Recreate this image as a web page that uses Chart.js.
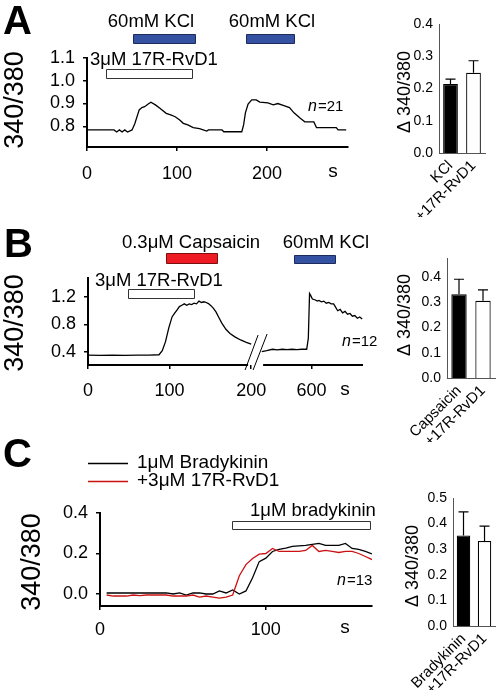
<!DOCTYPE html>
<html>
<head>
<meta charset="utf-8">
<script src="https://cdn.jsdelivr.net/npm/chart.js@4"></script>
<style>
html, body { margin: 0; padding: 0; background: #fff; }
#wrap { position: relative; width: 502px; height: 692px; overflow: hidden; background: #fff; }
#wrap canvas { position: absolute; left: 0; top: 0; }
</style>
</head>
<body>
<div id="wrap">
  <canvas id="lineA" width="502" height="692"></canvas>
  <canvas id="barA" width="502" height="692"></canvas>
  <canvas id="lineB" width="502" height="692"></canvas>
  <canvas id="barB" width="502" height="692"></canvas>
  <canvas id="lineC" width="502" height="692"></canvas>
  <canvas id="barC" width="502" height="692"></canvas>
</div>
<script>
// ---- panel A trace (s, 340/380)
const aTimes = [0,30,33,36,39,42,45,50,53,58,61,64,68,71,76,81,88,93,98,103,107,112,118,125,133,135,150,152,172,174,176,179,183,188,192,201,207,212,218,225,230,237,242,252,255,265,277,279,288];
const aVals = [0.784,0.784,0.775,0.784,0.775,0.784,0.775,0.784,0.810,0.872,0.882,0.886,0.898,0.906,0.894,0.879,0.857,0.850,0.842,0.828,0.813,0.806,0.794,0.790,0.779,0.784,0.784,0.776,0.776,0.806,0.859,0.898,0.916,0.916,0.906,0.903,0.894,0.900,0.892,0.882,0.859,0.835,0.820,0.819,0.794,0.794,0.794,0.784,0.784];
const aKclRanges = [[51, 120], [177, 230]];
const aRvdRange = [21, 117];

// ---- panel B trace, split by the axis break
const bTimes1 = [0,15,30,45,60,75,87,91,95,99,103,106,109,112,115,118,121,124,127,130,133,136,139,142,145,148,151,154,157,160,164,169,174,180,187,194,200];
const bVals1 = [0.356,0.352,0.356,0.352,0.356,0.354,0.36,0.42,0.55,0.75,0.91,0.96,1.01,1.06,1.08,1.10,1.08,1.10,1.09,1.11,1.10,1.14,1.12,1.13,1.12,1.10,1.07,1.03,0.98,0.91,0.82,0.73,0.67,0.62,0.575,0.54,0.516];
const bTimes2 = [539,545,552,558,564,570,576,582,588,594,596,597.5,599,601,604,607,609,612,615,618,621,624,627,629,632,635,638,641,644,647,650,653,656,659,662];
const bVals2 = [0.405,0.42,0.44,0.43,0.44,0.435,0.44,0.435,0.44,0.44,0.60,1.25,1.22,1.17,1.16,1.14,1.15,1.13,1.14,1.11,1.12,1.10,1.10,1.06,1.00,1.02,0.97,0.99,0.95,0.96,0.92,0.93,0.89,0.91,0.88];
const bTickTimes = [0, 100, 200, 600];
const bBreak = [200, 539];
const bCapRange = [96, 158];
const bKclRange = [578, 628];
const bRvdRange = [49, 130];

// ---- panel C traces
const cTimes = [4,8,12,16,20,24,28,32,36,40,44,48,52,56,60,64,68,72,76,80,84,88,92,96,100,104,108,112,116,120,124,128,132,136,140,144,148,152,156,160,164];
const cBradykinin = [0.005,0.005,0.005,0.005,0.005,0.005,0.005,0.005,0.005,0.005,0.0,0.005,-0.005,0.005,0.005,0.0,0.0,0.015,0.005,0.02,0.0,0.015,0.08,0.16,0.177,0.21,0.22,0.226,0.235,0.238,0.24,0.245,0.25,0.24,0.24,0.24,0.25,0.225,0.22,0.21,0.198];
const cWithRvd = [-0.005,-0.01,-0.01,-0.01,-0.005,-0.008,-0.005,-0.005,-0.005,-0.005,-0.01,-0.01,-0.01,-0.005,-0.015,-0.01,-0.015,-0.02,-0.015,-0.005,0.09,0.145,0.175,0.197,0.2,0.225,0.21,0.21,0.21,0.21,0.215,0.24,0.21,0.215,0.21,0.205,0.21,0.21,0.2,0.185,0.17];
const cBkRange = [79.5, 163];

// ---- bar summaries (mean, +SEM)
const barLabelsA = ['KCl', '+17R-RvD1'];
const barMeansA = [0.214, 0.249];
const barErrA = [0.015, 0.037];
const barLabelsB = ['Capsaicin', '+17R-RvD1'];
const barMeansB = [0.331, 0.305];
const barErrB = [0.059, 0.043];
const barLabelsC = ['Bradykinin', '+17R-RvD1'];
const barMeansC = [0.354, 0.332];
const barErrC = [0.092, 0.058];

const FONT = "'Liberation Sans', Arial, Helvetica, sans-serif";
Chart.defaults.font.family = FONT;
Chart.defaults.color = '#000';

const W = 502, H = 692, YW = 60;

function bMap(t) {
  return t <= bBreak[0] ? t : t - bBreak[1] + 213;
}

function padFor(area, xh) {
  return { left: area.l - YW, top: area.t, right: W - area.r, bottom: H - area.b - xh };
}

function fixedTicks(vals) {
  return scale => { scale.ticks = vals.map(v => ({ value: v })); };
}

function label(ctx, s, x, y, size, opt) {
  opt = opt || {};
  ctx.save();
  ctx.font = (opt.style || '') + ' ' + size + 'px ' + FONT;
  ctx.fillStyle = opt.color || '#000';
  ctx.textAlign = opt.align || 'left';
  ctx.textBaseline = opt.base || 'middle';
  ctx.translate(x, y);
  if (opt.rot) ctx.rotate(opt.rot);
  ctx.fillText(s, 0, 0);
  ctx.restore();
}

function nLabel(ctx, num, x, y) {
  ctx.save();
  ctx.font = 'italic 16px ' + FONT;
  const w = ctx.measureText('n').width;
  ctx.restore();
  label(ctx, 'n', x, y, 16, { style: 'italic' });
  label(ctx, '=' + num, x + w + 1, y, 15);
}

function box(chart, t0, t1, y0, y1, fill, stroke, map) {
  const xs = chart.scales.x, ctx = chart.ctx;
  map = map || (t => t);
  const a = xs.getPixelForValue(map(t0)), b = xs.getPixelForValue(map(t1));
  ctx.save();
  ctx.fillStyle = fill;
  ctx.strokeStyle = stroke;
  ctx.lineWidth = 1;
  ctx.beginPath();
  ctx.rect(Math.round(a) + 0.5, y0 + 0.5, Math.round(b - a), y1 - y0);
  ctx.fill();
  ctx.stroke();
  ctx.restore();
}

function makeLine(id, cfg) {
  const XH = 40;
  return new Chart(document.getElementById(id), {
    type: 'line',
    data: {
      datasets: cfg.datasets.map(d => ({
        data: d.t.map((t, i) => ({ x: cfg.map ? cfg.map(t) : t, y: d.v[i] })),
        borderColor: d.color,
        borderWidth: 1.3,
        pointRadius: 0,
        tension: 0,
        fill: false
      }))
    },
    options: {
      responsive: false,
      animation: false,
      events: [],
      layout: { padding: padFor(cfg.area, XH) },
      plugins: { legend: { display: false }, tooltip: { enabled: false } },
      scales: {
        x: {
          type: 'linear', min: cfg.xMin, max: cfg.xMax,
          afterBuildTicks: fixedTicks(cfg.xTicks),
          afterFit: s => { s.height = XH; },
          grid: { drawOnChartArea: false, tickLength: 4, color: '#000', lineWidth: 1.5 },
          border: { display: cfg.xBorder !== false, color: '#000', width: 2 },
          ticks: { font: { size: 18 }, padding: cfg.xPad, maxRotation: 0, autoSkip: false, callback: cfg.xLabel || (v => String(v)) }
        },
        y: {
          min: cfg.yMin, max: cfg.yMax,
          afterBuildTicks: fixedTicks(cfg.yTicks),
          afterFit: s => { s.width = YW; },
          grid: { drawOnChartArea: false, tickLength: 4, color: '#000', lineWidth: 1.5 },
          border: { color: '#000', width: 2 },
          ticks: { font: { size: 18 }, padding: 8, callback: v => v.toFixed(1) }
        }
      }
    },
    plugins: [{ id: 'deco', afterDraw: chart => cfg.draw(chart, chart.ctx) }]
  });
}

function makeBar(id, cfg) {
  const XH = 64;
  return new Chart(document.getElementById(id), {
    type: 'bar',
    data: {
      labels: cfg.labels,
      datasets: [{
        data: cfg.means,
        backgroundColor: ['#000', '#fff'],
        borderColor: '#000',
        borderWidth: 1.2,
        barPercentage: 0.64,
        categoryPercentage: 1
      }]
    },
    options: {
      responsive: false,
      animation: false,
      events: [],
      layout: { padding: padFor(cfg.area, XH) },
      plugins: { legend: { display: false }, tooltip: { enabled: false } },
      scales: {
        x: {
          afterFit: s => { s.height = XH; },
          grid: { display: false, drawTicks: false },
          border: { color: '#555', width: 1 },
          ticks: { font: { size: 15 }, minRotation: 45, maxRotation: 45, autoSkip: false, padding: 4 }
        },
        y: {
          min: 0, max: cfg.yMax,
          afterBuildTicks: fixedTicks(cfg.yTicks),
          afterFit: s => { s.width = YW; },
          grid: { display: false, drawTicks: false },
          border: { color: '#555', width: 1 },
          ticks: { font: { size: 14 }, padding: 6, callback: v => v.toFixed(1) }
        }
      }
    },
    plugins: [{
      id: 'errbars',
      afterDatasetsDraw(chart) {
        const ctx = chart.ctx, ys = chart.scales.y;
        const meta = chart.getDatasetMeta(0);
        ctx.save();
        ctx.strokeStyle = '#000';
        ctx.lineWidth = 1.2;
        meta.data.forEach((bar, i) => {
          const top = ys.getPixelForValue(cfg.means[i] + cfg.errs[i]);
          ctx.beginPath();
          ctx.moveTo(bar.x, bar.y);
          ctx.lineTo(bar.x, top);
          ctx.moveTo(bar.x - 5, top);
          ctx.lineTo(bar.x + 5, top);
          ctx.stroke();
        });
        ctx.restore();
      },
      afterDraw(chart) {
        label(chart.ctx, '\u0394 340/380', cfg.title[0], cfg.title[1], 18, { align: 'center', rot: -Math.PI / 2 });
      }
    }]
  });
}

// ---- A
makeLine('lineA', {
  area: { l: 87, t: 58, r: 348, b: 147 },
  xMin: 0, xMax: 290, xTicks: [0, 100, 200], xPad: 12,
  yMin: 0.709, yMax: 1.1, yTicks: [0.8, 0.9, 1.0, 1.1],
  datasets: [{ t: aTimes, v: aVals, color: '#000' }],
  draw(chart, ctx) {
    label(ctx, 'A', 3, 34, 40, { style: 'bold', base: 'alphabetic' });
    label(ctx, '340/380', 16, 100, 27, { align: 'center', rot: -Math.PI / 2 });
    label(ctx, '60mM KCl', 151, 22, 18.5, { align: 'center' });
    label(ctx, '60mM KCl', 272, 22, 18.5, { align: 'center' });
    aKclRanges.forEach(r => box(chart, r[0], r[1], 34, 43, '#3451a2', '#1d2b5c'));
    label(ctx, '3\u03bcM 17R-RvD1', 90, 60, 18.5);
    box(chart, aRvdRange[0], aRvdRange[1], 69, 78, '#fff', '#333');
    nLabel(ctx, '21', 308, 107);
    label(ctx, 's', 333, 172, 19, { align: 'center' });
  }
});

makeBar('barA', {
  area: { l: 439, t: 24, r: 485, b: 153 },
  labels: barLabelsA, means: barMeansA, errs: barErrA,
  yMax: 0.4, yTicks: [0, 0.1, 0.2, 0.3, 0.4],
  title: [405, 92]
});

// ---- B
makeLine('lineB', {
  area: { l: 88, t: 278, r: 363, b: 365 },
  map: bMap,
  xMin: 0, xMax: bMap(663), xTicks: bTickTimes.map(bMap), xPad: 11,
  xLabel: v => { const i = bTickTimes.findIndex(t => bMap(t) === v); return i >= 0 ? String(bTickTimes[i]) : ''; },
  xBorder: false,
  yMin: 0.211, yMax: 1.476, yTicks: [0.4, 0.8, 1.2],
  datasets: [
    { t: bTimes1, v: bVals1, color: '#000' },
    { t: bTimes2, v: bVals2, color: '#000' }
  ],
  draw(chart, ctx) {
    const xs = chart.scales.x, a = chart.chartArea;
    // broken x axis
    const xb = xs.getPixelForValue(206);
    ctx.save();
    ctx.strokeStyle = '#000';
    ctx.lineWidth = 2;
    ctx.beginPath();
    ctx.moveTo(a.left - 1, a.bottom);
    ctx.lineTo(xb - 8, a.bottom);
    ctx.moveTo(xb + 7, a.bottom);
    ctx.lineTo(a.right, a.bottom);
    ctx.stroke();
    ctx.lineWidth = 1;
    ctx.beginPath();
    ctx.moveTo(xb - 11, a.bottom + 5);
    ctx.lineTo(xb + 2, a.bottom - 30);
    ctx.moveTo(xb - 3, a.bottom + 5);
    ctx.lineTo(xb + 11, a.bottom - 31);
    ctx.stroke();
    ctx.restore();

    label(ctx, '340/380', 16, 323, 27, { align: 'center', rot: -Math.PI / 2 });
    label(ctx, 'B', 4, 257, 40, { style: 'bold', base: 'alphabetic' });
    label(ctx, '0.3\u03bcM Capsaicin', 191, 243, 18.5, { align: 'center' });
    box(chart, bCapRange[0], bCapRange[1], 253, 263, '#ee1b24', '#7a1010', bMap);
    label(ctx, '60mM KCl', 326, 243, 18.5, { align: 'center' });
    box(chart, bKclRange[0], bKclRange[1], 255, 263, '#3451a2', '#1d2b5c', bMap);
    label(ctx, '3\u03bcM 17R-RvD1', 95, 281, 18.5);
    box(chart, bRvdRange[0], bRvdRange[1], 289, 298, '#fff', '#333', bMap);
    nLabel(ctx, '12', 342, 342);
    label(ctx, 's', 345, 390, 19, { align: 'center' });
  }
});

makeBar('barB', {
  area: { l: 447, t: 258, r: 495, b: 378 },
  labels: barLabelsB, means: barMeansB, errs: barErrB,
  yMax: 0.474, yTicks: [0, 0.1, 0.2, 0.3, 0.4],
  title: [405, 315]
});

// ---- C
makeLine('lineC', {
  area: { l: 100, t: 513, r: 372, b: 606 },
  xMin: 0, xMax: 164, xTicks: [0, 100], xPad: 9,
  yMin: -0.0593, yMax: 0.4, yTicks: [0, 0.2, 0.4],
  datasets: [
    { t: cTimes, v: cWithRvd, color: '#cc1111' },
    { t: cTimes, v: cBradykinin, color: '#000' }
  ],
  draw(chart, ctx) {
    label(ctx, 'C', 3, 467, 40, { style: 'bold', base: 'alphabetic' });
    ctx.save();
    ctx.lineWidth = 1.3;
    ctx.strokeStyle = '#000';
    ctx.beginPath(); ctx.moveTo(88, 463.5); ctx.lineTo(128, 463.5); ctx.stroke();
    ctx.strokeStyle = '#cc1111';
    ctx.beginPath(); ctx.moveTo(88, 481.5); ctx.lineTo(128, 481.5); ctx.stroke();
    ctx.restore();
    label(ctx, '1\u03bcM Bradykinin', 137, 463, 19);
    label(ctx, '+3\u03bcM 17R-RvD1', 137, 481, 19);
    label(ctx, '340/380', 33, 562, 27, { align: 'center', rot: -Math.PI / 2 });
    label(ctx, '1\u03bcM bradykinin', 250, 511, 18.5);
    box(chart, cBkRange[0], cBkRange[1], 521, 529, '#fff', '#333');
    nLabel(ctx, '13', 337, 581);
    label(ctx, 's', 345, 628, 19, { align: 'center' });
  }
});

makeBar('barC', {
  area: { l: 453, t: 498, r: 499, b: 626 },
  labels: barLabelsC, means: barMeansC, errs: barErrC,
  yMax: 0.5, yTicks: [0, 0.1, 0.2, 0.3, 0.4, 0.5],
  title: [413, 566]
});
</script>
</body>
</html>
